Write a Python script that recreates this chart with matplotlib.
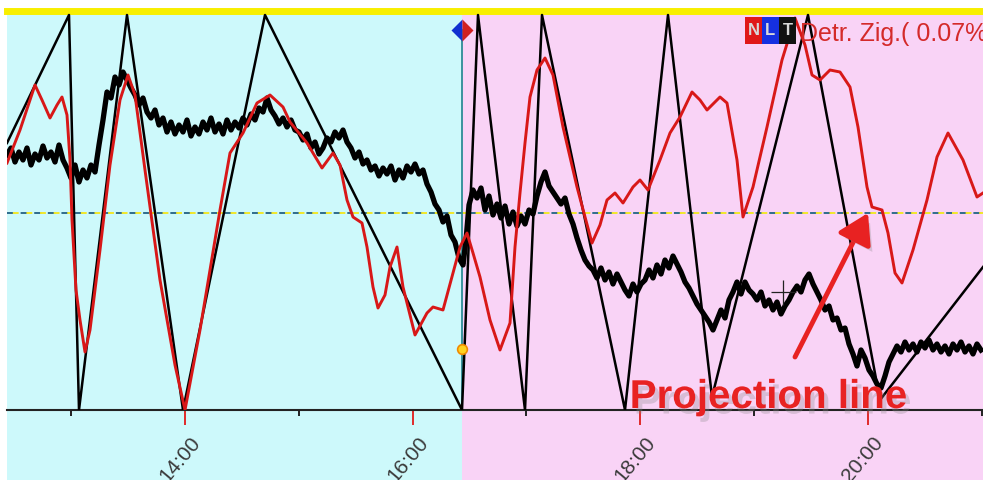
import matplotlib
matplotlib.use('Agg')
import matplotlib.pyplot as plt
import matplotlib.patheffects as pe
from matplotlib.patches import Rectangle
from matplotlib.transforms import ScaledTranslation

# x = bar index (one bar ~ 31.6 s), y = oscillator scale (0 .. 399)
zig_bar = [0, 62, 72, 120, 176, 258, 455, 471, 518, 535, 618, 661, 705, 801, 873, 976]
zig_val = [267, 395, 0, 395, 0, 395, 0, 395, 0, 395, 0, 395, 13, 395, 10, 143]

detr_bar = [0, 13, 28, 35, 43, 50, 55, 60, 63, 65, 69, 73, 78, 83, 93, 103, 113, 121,
            128, 138, 153, 168, 178, 193, 213, 223, 236, 250, 263, 276, 283, 300, 315,
            326, 333, 340, 346, 355, 360, 366, 371, 378, 383, 390, 396, 408, 420, 426,
            436, 446, 453, 460, 466, 473, 483, 493, 503, 508, 513, 518, 523, 530, 538,
            546, 556, 570, 585, 593, 600, 608, 616, 626, 633, 641, 653, 663, 673, 685,
            693, 700, 713, 720, 723, 730, 736, 746, 760, 775, 788, 798, 805, 813, 823,
            833, 843, 851, 860, 865, 875, 881, 888, 895, 906, 920, 930, 941, 956, 970, 976]
detr_val = [247, 280, 325, 310, 292, 305, 313, 295, 250, 190, 120, 90, 58, 80, 160, 245,
            310, 335, 315, 240, 130, 45, 0, 80, 200, 257, 277, 307, 315, 303, 288, 267,
            242, 257, 245, 210, 193, 187, 163, 123, 102, 115, 143, 163, 123, 75, 97, 103,
            100, 137, 163, 177, 157, 133, 90, 60, 87, 163, 217, 267, 313, 340, 352, 335,
            283, 223, 167, 185, 210, 217, 207, 223, 230, 220, 250, 277, 293, 318, 310, 300,
            313, 307, 290, 250, 193, 223, 283, 350, 392, 365, 335, 330, 340, 338, 323, 283,
            223, 203, 200, 177, 137, 127, 160, 210, 253, 277, 250, 213, 217]

price_bar = list(range(0, 457, 4)) + [459, 462] + list(range(466, 975, 4))
price_val = [255, 262, 248, 258, 250, 262, 245, 256, 250, 264,
             252, 258, 248, 265, 250, 242, 232, 245, 228, 240,
             232, 245, 238, 265, 290, 318, 312, 333, 325, 338,
             330, 322, 315, 305, 312, 298, 292, 300, 285, 292,
             278, 288, 276, 285, 278, 290, 274, 283, 276, 288,
             280, 292, 278, 286, 276, 290, 280, 288, 282, 292,
             285, 296, 290, 302, 298, 312, 300, 294, 286, 292,
             283, 290, 280, 278, 270, 276, 262, 268, 256, 262,
             272, 268, 278, 272, 280, 268, 262, 252, 258, 246,
             250, 240, 244, 234, 242, 236, 244, 230, 240, 232,
             244, 238, 246, 236, 240, 226, 218, 206, 200, 188,
             194, 175, 168, 152, 145,
             170, 205,
             220, 212, 222, 200, 214, 195, 206, 192, 204, 186,
             198, 184, 194, 186, 200, 196, 214, 228, 238, 224,
             218, 212, 206, 212, 196, 186, 172, 160, 150, 144,
             140, 132, 142, 130, 138, 126, 136, 128, 120, 114,
             126, 118, 126, 130, 140, 132, 145, 136, 150, 142,
             154, 146, 138, 128, 122, 114, 106, 100, 94, 88,
             80, 90, 100, 92, 110, 118, 128, 116, 128, 120,
             116, 110, 118, 104, 110, 100, 108, 96, 104, 110,
             118, 124, 118, 130, 136, 126, 118, 110, 100, 104,
             90, 92, 80, 82, 66, 56, 44, 60, 52, 40,
             34, 26, 22, 34, 48, 56, 64, 58, 68, 60,
             66, 58, 68, 62, 70, 60, 66, 58, 64, 56,
             66, 60, 68, 58, 64, 56, 66, 60]

zero_level = 197
split_bar = 455
hours = [13, 14, 15, 16, 17, 18, 19, 20, 21]
hour_labels = ['14:00', '16:00', '18:00', '20:00']
bar_at_14 = 178
bars_per_hour = 113.8

cyan = '#cdf9fb'
pink = '#f9d3f6'
red = '#d81818'

fig = plt.figure(figsize=(9.83, 4.8), dpi=100)
fig.patch.set_facecolor('white')
ax = fig.add_axes([7 / 983, 70 / 480, 976 / 983, 399 / 480])
ax.set_facecolor('none')

ax.axvspan(0, split_bar, ymin=-70 / 399, ymax=1, color=cyan, clip_on=False, zorder=0, lw=0)
ax.axvspan(split_bar, 976, ymin=-70 / 399, ymax=1, color=pink, clip_on=False, zorder=0, lw=0)

# zero line, two-tone dashes
ax.axhline(zero_level, color='#2f6c8c', lw=1.4, linestyle=(0, (4, 3)), zorder=2)
ax.axhline(zero_level, color='#f2e82a', lw=1.4, linestyle=(4, (3, 4)), zorder=2)

# divider
ax.plot([split_bar, split_bar], [0, 380], color='#2d8c96', lw=1.3, zorder=2)
ax.plot(split_bar, 380, marker='D', markersize=11, fillstyle='left',
        markerfacecolor='#1030d0', markerfacecoloralt='#d02020', markeredgecolor='none', zorder=6)
ax.plot(split_bar, 61, marker='o', markersize=7, markerfacecolor='#ffd21f',
        markeredgecolor='#f08a00', markeredgewidth=1.2, zorder=6)

ax.plot(zig_bar, zig_val, color='black', lw=1.8, zorder=3)
ax.plot(price_bar, price_val, color='black', lw=3.8, zorder=4)
ax.plot(detr_bar, detr_val, color=red, lw=2.1, zorder=5)

# cursor cross
ax.plot(776, 118, marker='+', markersize=18, markeredgewidth=0.9, color='#222222', zorder=6)

ax.set_xlim(0, 976)
ax.set_ylim(0, 399)
ax.set_yticks([])

major = [bar_at_14 + (h - 14) * bars_per_hour for h in hours if h % 2 == 0]
minor = [bar_at_14 + (h - 14) * bars_per_hour for h in hours if h % 2 == 1]
ax.set_xticks(major)
ax.set_xticklabels(hour_labels)
ax.set_xticks(minor, minor=True)
ax.tick_params(axis='x', which='major', direction='out', length=11, width=1.4,
               color='#e02a2a', pad=10, labelsize=15, labelcolor='#3a3a3a')
ax.tick_params(axis='x', which='minor', direction='out', length=4, width=1.4, color='#222222')
for lab in ax.get_xticklabels():
    lab.set_rotation(50)
    lab.set_rotation_mode('anchor')
    lab.set_ha('right')
    lab.set_va('center')
    lab.set_fontfamily('Liberation Sans')
    lab.set_transform(lab.get_transform() + ScaledTranslation(0.12, 0, fig.dpi_scale_trans))

for side in ['left', 'right']:
    ax.spines[side].set_visible(False)
ax.spines['top'].set_color('#f8ef00')
ax.spines['top'].set_linewidth(5)
ax.spines['bottom'].set_color('#222222')
ax.spines['bottom'].set_linewidth(1.5)

# legend strip
boxes = [('N', '#e01818'), ('L', '#1530e0'), ('T', '#111111')]
for i, (ch, fc) in enumerate(boxes):
    x0 = 0.756 + i * 0.0175
    ax.add_patch(Rectangle((x0, 0.918), 0.0175, 0.068, transform=ax.transAxes,
                           facecolor=fc, edgecolor='none', zorder=7, clip_on=False))
    ax.text(x0 + 0.00875, 0.952, ch, transform=ax.transAxes, ha='center', va='center',
            fontsize=12, fontweight='bold', color='#d8d8d8', family='Liberation Sans', zorder=8)
ax.text(0.813, 0.925, 'Detr. Zig.( 0.07%', transform=ax.transAxes, ha='left', va='baseline',
        fontsize=18, color='#d42a2a', family='Liberation Sans', zorder=8, clip_on=False)

shadow = [pe.SimplePatchShadow(offset=(3, -4), shadow_rgbFace='#8a8a8a', alpha=0.3), pe.Normal()]
ax.annotate('', xy=(861, zero_level), xytext=(788, 53),
            arrowprops=dict(arrowstyle='-|>,head_length=0.9,head_width=0.55', color='#e82222',
                            lw=3.5, mutation_scale=20, shrinkA=0, shrinkB=0,
                            path_effects=shadow), zorder=9)
ax.text(0.638, 0.005, 'Projection line', transform=ax.transAxes, ha='left', va='baseline',
        fontsize=29, fontweight='bold', color='#e82222', family='Liberation Sans',
        path_effects=shadow, zorder=9)

fig.savefig('out.png', dpi=100, facecolor='white')
